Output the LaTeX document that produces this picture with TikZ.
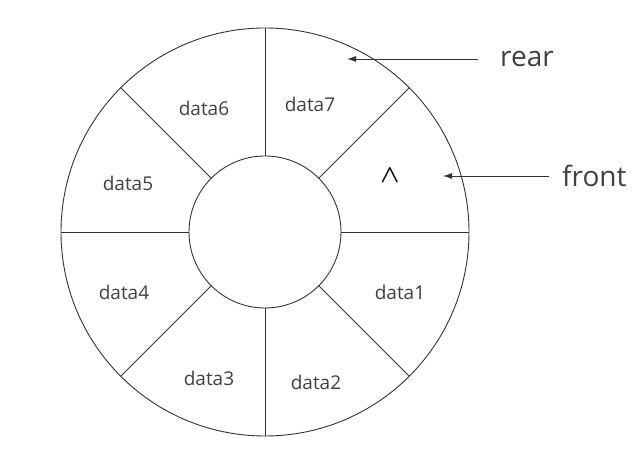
\documentclass[tikz,border=0pt]{standalone}
\usepackage{fontspec}
\setmainfont{Open Sans}
\usetikzlibrary{arrows.meta,calc}
\definecolor{linegray}{HTML}{333333}
\definecolor{textgray}{HTML}{404040}
\tikzset{
  slot/.style={text=textgray, font=\fontsize{19}{20}\selectfont, inner sep=0pt},
  pointer/.style={text=textgray, font=\fontsize{28}{30}\selectfont, inner sep=0pt},
  ptr/.style={linegray, line width=0.9pt, -{Latex[length=9pt,width=6pt]}}
}

\begin{document}
\begin{tikzpicture}[x=1pt, y=1pt]
            \useasboundingbox (0,0) rectangle (640,454);
            \coordinate (c) at (265,222);
            \draw[linegray, line width=0.9pt] (c) circle[radius=204];
            \draw[linegray, line width=0.9pt] (c) circle[radius=76];
            \foreach \a in {0,45,...,315}
                \draw[linegray, line width=0.9pt] ($(c)+(\a:76)$) -- ($(c)+(\a:204)$);
            \node[slot] (d7) at (310,350) {data7};
            \node[slot] (d6) at (204,346) {data6};
            \node[slot] (d5) at (128,271) {data5};
            \node[slot] (d4) at (124,162) {data4};
            \node[slot] (d3) at (209,76) {data3};
            \node[slot] (d2) at (316,72) {data2};
            \node[slot] (d1) at (400,162) {data1};
            \node[slot, text=black, font=\fontsize{32}{32}\selectfont\boldmath] (nil) at (390,278) {$\wedge$};
            \node[pointer, anchor=west] (rear) at (500,395) {rear};
            \node[pointer, anchor=west] (front) at (562,278) {front};
            \coordinate (reartail) at (478,395);
            \coordinate (reartip) at (347,395);
            \coordinate (fronttail) at (549,278);
            \coordinate (fronttip) at (443,278);
            \draw[ptr] (reartail) -- (reartip);
            \draw[ptr] (fronttail) -- (fronttip);
        \end{tikzpicture}
\end{document}
